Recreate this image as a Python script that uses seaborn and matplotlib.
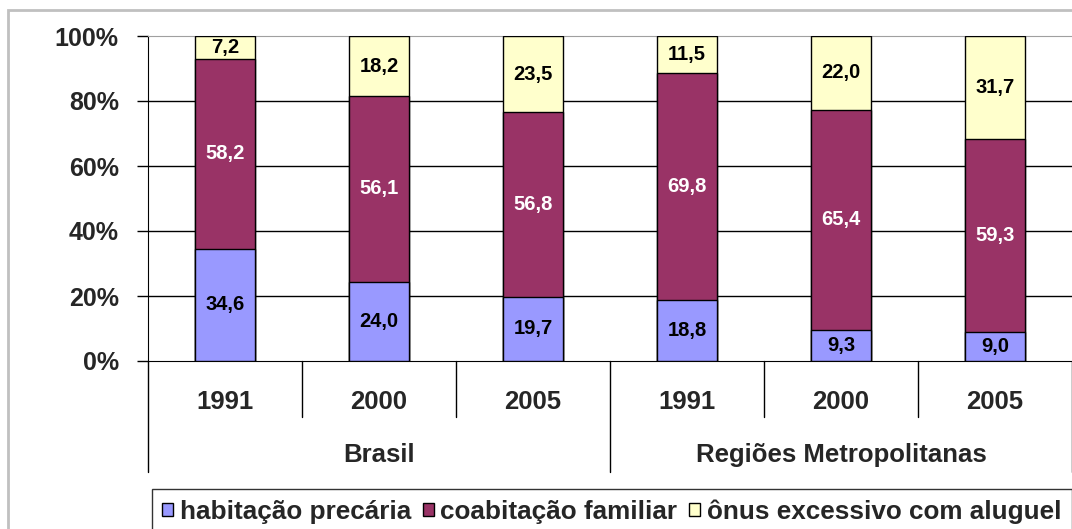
import numpy as np
import pandas as pd
import matplotlib.pyplot as plt
from matplotlib.patches import Patch, Rectangle
from matplotlib.transforms import blended_transform_factory
import seaborn as sns

# dados
grupos = ['Brasil', 'Regiões Metropolitanas']
anos = ['1991', '2000', '2005', '1991', '2000', '2005']
precaria = [34.6, 24.0, 19.7, 18.8, 9.3, 9.0]
coabitacao = [58.2, 56.1, 56.8, 69.8, 65.4, 59.3]
onus = [7.2, 18.2, 23.5, 11.5, 22.0, 31.7]
series = ['habitação precária', 'coabitação familiar', 'ônus excessivo com aluguel']
cores = ['#9999FF', '#993366', '#FFFFCC']

sns.set_style('white')
plt.rcParams['font.family'] = ['Liberation Sans', 'DejaVu Sans']
plt.rcParams['font.weight'] = 'bold'

chaves = [f'{g} {a}' for g in grupos for a in anos[:3]]
total = np.array(precaria) + np.array(coabitacao) + np.array(onus)
p1 = np.array(precaria) / total
p2 = (np.array(precaria) + np.array(coabitacao)) / total
df = pd.DataFrame({'cat': chaves, 'p1': p1, 'p2': p2, 'p3': np.ones(len(chaves))})

fig = plt.figure(figsize=(10.72, 5.29), dpi=100)
ax = fig.add_axes([148 / 1072, 1 - 361 / 529, 924 / 1072, 325 / 529])

# barras empilhadas (acumuladas, da maior para a menor)
for col, cor in zip(['p3', 'p2', 'p1'], cores[::-1]):
    sns.barplot(data=df, x='cat', y=col, order=chaves, color=cor, saturation=1,
                width=0.39, edgecolor='black', linewidth=1, ax=ax, zorder=3)

ax.set_xlim(-0.5, 5.5)
ax.set_ylim(0, 1)
ax.set_yticks([0, 0.2, 0.4, 0.6, 0.8, 1.0])
ax.set_yticklabels(['0%', '20%', '40%', '60%', '80%', '100%'], fontsize=18, fontweight='bold')
ax.tick_params(axis='y', length=8, width=1, color='black', direction='out', left=True, pad=13)
ax.set_xticks([])
ax.set_xlabel('')
ax.set_ylabel('')
for y in [0.2, 0.4, 0.6, 0.8]:
    ax.axhline(y, color='black', lw=1, zorder=1)
ax.spines['right'].set_visible(False)
ax.spines['top'].set_color('#a0a0a0')
ax.spines['left'].set_color('black')
ax.spines['bottom'].set_color('black')

# rótulos dentro das barras
for i in range(len(chaves)):
    ax.text(i, p1[i] / 2, f'{precaria[i]:.1f}'.replace('.', ','), ha='center', va='center',
            fontsize=14.5, fontweight='bold', color='black', zorder=4)
    ax.text(i, (p1[i] + p2[i]) / 2, f'{coabitacao[i]:.1f}'.replace('.', ','), ha='center',
            va='center', fontsize=14.5, fontweight='bold', color='white', zorder=4)
    ax.text(i, (p2[i] + 1) / 2, f'{onus[i]:.1f}'.replace('.', ','), ha='center', va='center',
            fontsize=14.5, fontweight='bold', color='black', zorder=4)

# eixo x em dois níveis
tr = blended_transform_factory(ax.transData, ax.transAxes)
for i, a in enumerate(anos):
    ax.text(i, -0.126, a, transform=tr, ha='center', va='center', fontsize=18.5, fontweight='bold')
for j, g in enumerate(grupos):
    ax.text(j * 3 + 1, -0.289, g, transform=tr, ha='center', va='center', fontsize=18.5,
            fontweight='bold')
for k in range(len(chaves) + 1):
    baixo = -0.342 if k % 3 == 0 else -0.172
    ax.plot([k - 0.5, k - 0.5], [0, baixo], transform=tr, color='black', lw=1, clip_on=False)

# legenda
handles = [Patch(facecolor=c, edgecolor='black', lw=1) for c in cores]
leg = fig.legend(handles, series, loc='upper left', bbox_to_anchor=(152 / 1072, 1 - 489 / 529),
                 ncol=3, fontsize=18.8, frameon=True, fancybox=False, edgecolor='black',
                 handlelength=0.42, handleheight=0.42, handletextpad=0.25, columnspacing=0.45,
                 borderpad=0.4, borderaxespad=0)
leg.get_frame().set_linewidth(1)
for t in leg.get_texts():
    t.set_fontweight('bold')

# moldura externa
fig.patches.append(Rectangle((8 / 1072, -0.1), 1.2, (519 / 529) + 0.1, transform=fig.transFigure,
                             fill=False, edgecolor='#c0c0c0', lw=2))

fig.savefig('out.png', dpi=100)
